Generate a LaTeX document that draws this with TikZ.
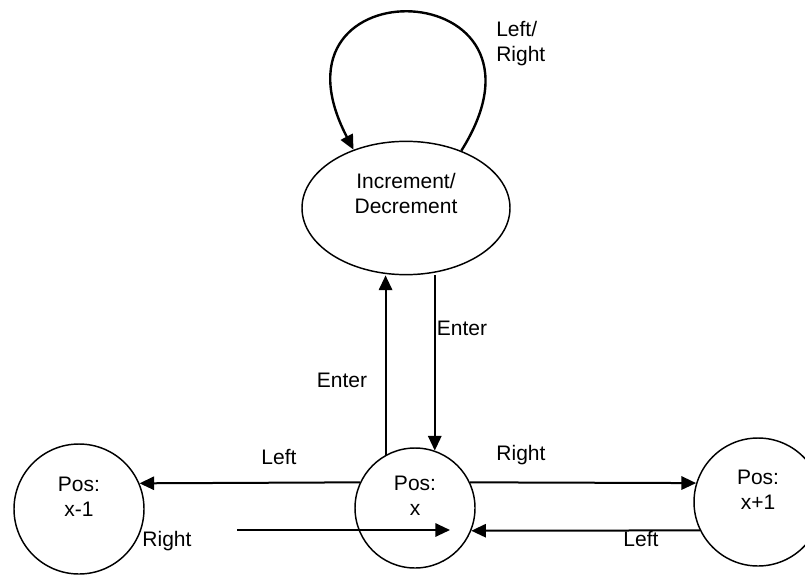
\documentclass[tikz,border=0pt]{standalone}
\usepackage{fontspec}
\setmainfont{Liberation Sans}
\usetikzlibrary{shapes.geometric, arrows.meta, calc}

\begin{document}
\begin{tikzpicture}[
        x=0.75pt, y=-0.75pt,
        font=\fontsize{15.75}{18.75}\selectfont,
        state/.style={circle, draw, line width=1.1pt, inner sep=0pt, align=center, text depth=18pt},
        bigstate/.style={ellipse, draw, line width=1.1pt, inner sep=0pt, align=center, minimum width=156pt, minimum height=100pt, text depth=22pt},
        arr/.style={line width=1.5pt, -{Triangle[length=11pt, width=10pt]}},
        lbl/.style={inner sep=0pt}
    ]
        \useasboundingbox (0,0) rectangle (805,574);

        % States
        \node[bigstate] (incdec) at (406,208) {Increment/\\Decrement};
        \node[state, minimum size=97.5pt] (posxm) at (79,509) {Pos:\\x-1};
        \node[state, minimum size=90pt] (posx) at (415,508) {Pos:\\x};
        \node[state, minimum size=96pt] (posxp) at (758,502) {Pos:\\x+1};
        \coordinate (rfree) at (237,530);

        % Transitions
        \draw[arr, line width=1.8pt] (incdec.46) .. controls +(112,-178) and +(-98,-188) .. (incdec.132);
        \draw[arr] (posx.119) -- (posx.119 |- incdec.south);
        \draw[arr] (posx.71.5 |- incdec.south) -- (posx.71.5);
        \draw[arr] (posx.155) -- (posxm.23);
        \draw[arr] (rfree) -- ($(posx.center)+(35,22)$);
        \draw[arr] (posx.25) -- (posxp.163);
        \draw[arr] (posxp.206) -- (posx.-22);

        % Labels
        \node[lbl, anchor=west, align=left] (lrlbl) at (496,44) {Left/\\Right};
        \node[lbl] (enterup) at (342,380) {Enter};
        \node[lbl] (enterdown) at (462,328) {Enter};
        \node[lbl] (leftlbl) at (279,457) {Left};
        \node[lbl] (rightlbl) at (521,455) {Right};
        \node[lbl] (rightlow) at (167,541) {Right};
        \node[lbl] (leftlow) at (641,539) {Left};
    \end{tikzpicture}
\end{document}
